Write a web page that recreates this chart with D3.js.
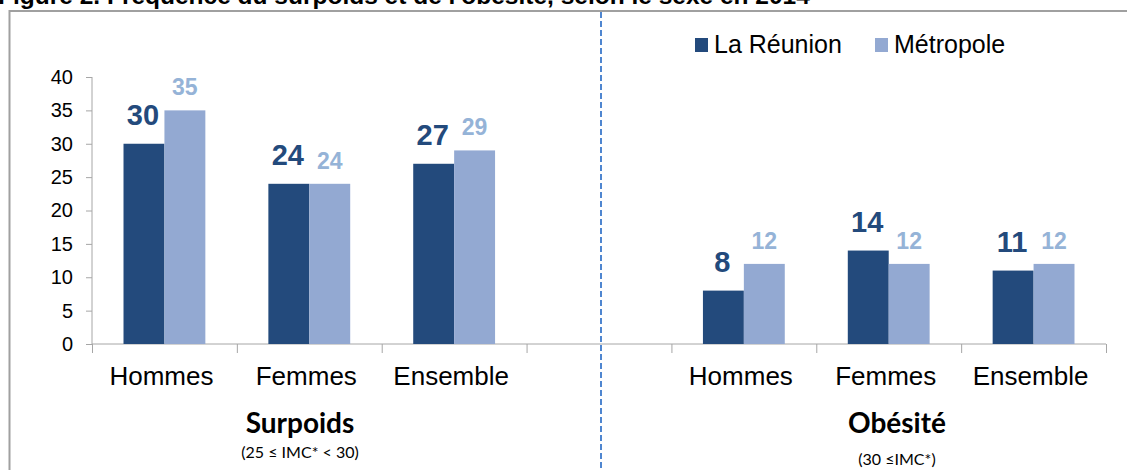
<!DOCTYPE html>
<html>
<head>
<meta charset="utf-8">
<script src="https://cdn.jsdelivr.net/npm/d3@7"></script>
<style>
  body { margin: 0; background: #fff; }
  svg { display: block; font-family: "Liberation Sans", Arial, sans-serif; }
</style>
</head>
<body>
<div id="chart"></div>
<script>
// data
var slots = ["s-hommes", "s-femmes", "s-ensemble", "gap", "o-hommes", "o-femmes", "o-ensemble"];
var slotLabels = ["Hommes", "Femmes", "Ensemble", "", "Hommes", "Femmes", "Ensemble"];
var reunion = [30, 24, 27, null, 8, 14, 11];
var metropole = [35, 24, 29, null, 12, 12, 12];
var seriesNames = ["La Réunion", "Métropole"];
var yTicks = [0, 5, 10, 15, 20, 25, 30, 35, 40];
var groupTitles = ["Surpoids", "Obésité"];
var groupNotes = ["(25 ≤ IMC* < 30)", "(30 ≤IMC*)"];
var title = "Figure 2. Fréquence du surpoids et de l'obésité, selon le sexe en 2014";

var W = 1127, H = 470;
var dark = "#234a7c", light = "#93a9d2";
var lightText = "#95b3d7";

var svg = d3.select("#chart").append("svg")
  .attr("width", W)
  .attr("height", H);

// title, cut by the top edge like in the source
svg.append("text")
  .attr("x", -2)
  .attr("y", 4)
  .attr("font-weight", "bold")
  .attr("font-size", 24.5)
  .text(title);

// frame
svg.append("rect")
  .attr("x", 9.5)
  .attr("y", 11)
  .attr("width", W)
  .attr("height", H)
  .attr("fill", "none")
  .attr("stroke", "#a0a0a0")
  .attr("stroke-width", 2);

var x = d3.scaleBand()
  .domain(slots)
  .range([92, 1106])
  .padding(0);

var xEdge = d3.scaleLinear()
  .domain([0, slots.length])
  .range([92, 1106]);

var xSub = d3.scaleBand()
  .domain(seriesNames)
  .range([0, x.bandwidth()])
  .paddingInner(0)
  .paddingOuter(0.77);

var y = d3.scaleLinear()
  .domain([0, 40])
  .range([344, 77]);

// y axis
var yAxis = svg.append("g")
  .attr("transform", "translate(92,0)")
  .call(d3.axisLeft(y).tickValues(yTicks).tickSize(6).tickPadding(13));
yAxis.selectAll("text").attr("font-size", 20).attr("fill", "#000").attr("font-family", "Liberation Sans, Arial, sans-serif");
yAxis.selectAll("line").attr("stroke", "#a6a6a6");
yAxis.select(".domain").attr("stroke", "#a6a6a6").attr("d", "M0," + y(40) + "V" + y(0));

// x axis (ticks at slot edges)
var xAxis = svg.append("g")
  .attr("transform", "translate(0," + y(0) + ")")
  .call(d3.axisBottom(xEdge).tickValues(d3.range(slots.length + 1)).tickSize(9).tickFormat(""));
xAxis.selectAll("line").attr("stroke", "#a6a6a6");
xAxis.select(".domain").attr("stroke", "#a6a6a6").attr("d", "M92,0H1106");

// bars
var rows = slots.map(function(s, i) {
  return { slot: s, values: [reunion[i], metropole[i]] };
}).filter(function(d) { return d.values[0] != null; });

var groups = svg.selectAll(".grp")
  .data(rows)
  .enter().append("g")
  .attr("class", "grp")
  .attr("transform", function(d) { return "translate(" + x(d.slot) + ",0)"; });

groups.selectAll("rect")
  .data(function(d) { return d.values.map(function(v, k) { return { k: k, v: v }; }); })
  .enter().append("rect")
  .attr("x", function(d) { return xSub(seriesNames[d.k]); })
  .attr("y", function(d) { return y(d.v); })
  .attr("width", xSub.bandwidth())
  .attr("height", function(d) { return y(0) - y(d.v); })
  .attr("fill", function(d) { return d.k == 0 ? dark : light; });

groups.selectAll(".val")
  .data(function(d) { return d.values.map(function(v, k) { return { k: k, v: v }; }); })
  .enter().append("text")
  .attr("class", "val")
  .attr("x", function(d) { return xSub(seriesNames[d.k]) + xSub.bandwidth() / 2 - (d.k == 0 ? 1 : 0); })
  .attr("y", function(d) { return y(d.v) - (d.k == 0 ? 19 : 15); })
  .attr("text-anchor", "middle")
  .attr("font-weight", "bold")
  .attr("font-size", function(d) { return d.k == 0 ? 29 : 23; })
  .attr("fill", function(d) { return d.k == 0 ? dark : lightText; })
  .text(function(d) { return d.v; });

// category labels
svg.selectAll(".cat")
  .data(slots)
  .enter().append("text")
  .attr("class", "cat")
  .attr("x", function(d) { return x(d) + x.bandwidth() / 2 - 3; })
  .attr("y", 385)
  .attr("text-anchor", "middle")
  .attr("font-size", 26)
  .text(function(d, i) { return slotLabels[i]; });

// group titles
var groupX = [300, 897];
svg.selectAll(".gt")
  .data(groupTitles)
  .enter().append("text")
  .attr("class", "gt")
  .attr("x", function(d, i) { return groupX[i]; })
  .attr("y", 433)
  .attr("text-anchor", "middle")
  .attr("font-family", "Lato, 'Open Sans', sans-serif")
  .attr("font-weight", "bold")
  .attr("font-size", 28)
  .text(function(d) { return d; });

svg.selectAll(".gn")
  .data(groupNotes)
  .enter().append("text")
  .attr("class", "gn")
  .attr("x", function(d, i) { return groupX[i]; })
  .attr("y", function(d, i) { return i == 0 ? 458 : 465; })
  .attr("text-anchor", "middle")
  .attr("font-family", "Lato, 'Open Sans', sans-serif")
  .attr("font-size", 16)
  .text(function(d) { return d; });

// dashed separator
svg.append("line")
  .attr("x1", 601).attr("x2", 601)
  .attr("y1", 12).attr("y2", H)
  .attr("stroke", "#4f86d0")
  .attr("stroke-width", 2)
  .attr("stroke-dasharray", "6,3");

// legend
var legend = svg.append("g").attr("transform", "translate(695,0)");
var legX = [0, 180];
seriesNames.forEach(function(name, k) {
  legend.append("rect")
    .attr("x", legX[k]).attr("y", 38)
    .attr("width", 13).attr("height", 14)
    .attr("fill", k == 0 ? dark : light);
  legend.append("text")
    .attr("x", legX[k] + 19).attr("y", 53)
    .attr("font-size", 25)
    .text(name);
});
</script>
</body>
</html>
